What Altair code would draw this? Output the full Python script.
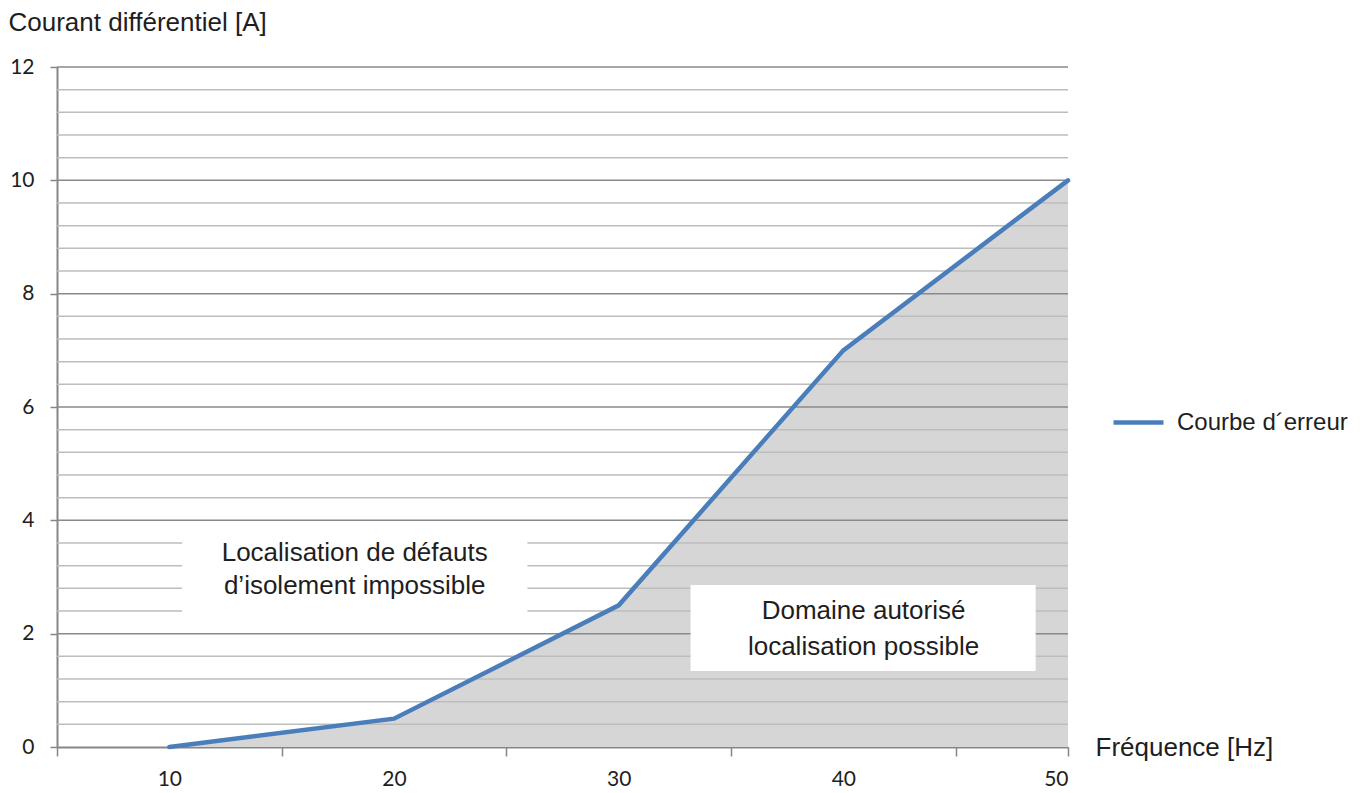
import altair as alt
import pandas as pd

# Data
freq = [10, 20, 30, 40, 50]
courant = [0, 0.5, 2.5, 7, 10]
serie = "Courbe d´erreur"

major_y = [2, 4, 6, 8, 10, 12]
minor_y = [0.4, 0.8, 1.2, 1.6, 2.4, 2.8, 3.2, 3.6, 4.4, 4.8, 5.2, 5.6,
           6.4, 6.8, 7.2, 7.6, 8.4, 8.8, 9.2, 9.6, 10.4, 10.8, 11.2, 11.6]
y_tick_values = [0, 2, 4, 6, 8, 10, 12]
x_axis_values = [5, 10, 15, 20, 25, 30, 35, 40, 45, 50]

box_x1 = [10.57, 33.2]
box_x2 = [25.94, 48.56]
box_y1 = [2.38, 1.34]
box_y2 = [3.92, 2.86]

label_x = [18.25, 18.25, 40.9, 40.9]
label_y = [3.42, 2.84, 2.40, 1.76]
label_text = ["Localisation de défauts", "d’isolement impossible",
              "Domaine autorisé", "localisation possible"]

df = pd.DataFrame({"x": freq, "y": courant, "serie": [serie] * len(freq)})
df_major = pd.DataFrame({"y": major_y})
df_minor = pd.DataFrame({"y": minor_y})
df_box = pd.DataFrame({"x": box_x1, "x2": box_x2, "y": box_y1, "y2": box_y2})
df_lab = pd.DataFrame({"x": label_x, "y": label_y, "t": label_text})

W, H = 1011, 680
xs = alt.Scale(domain=[5, 50], nice=False, zero=False)
ys = alt.Scale(domain=[0, 12], nice=False)
GRAY = "#868686"
TXT = "#1e1e1e"
FS = 26

x_axis = alt.Axis(
    values=x_axis_values,
    labelExpr="datum.value % 10 == 0 ? datum.label : ''",
    tickOpacity={"condition": {"test": "datum.value % 10 == 0 && datum.value < 50", "value": 0}, "value": 1},
    tickSize=9, tickColor=GRAY, tickWidth=1.5,
    domainColor=GRAY, domainWidth=2, grid=False,
    labelFont="Lato", labelFontSize=21, labelColor=TXT, labelPadding=12,
    title="Fréquence [Hz]", titleAngle=0, titleAlign="left",
    titleBaseline="middle", titleX=1038, titleY=0,
    titleFont="Liberation Sans", titleFontSize=FS,
    titleFontWeight="normal", titleColor=TXT)

y_axis = alt.Axis(
    values=y_tick_values, format="d", tickSize=7, tickColor=GRAY,
    tickWidth=1.5, domainColor=GRAY, domainWidth=2, grid=False,
    labelFont="Lato", labelFontSize=21, labelColor=TXT, labelPadding=16,
    title="Courant différentiel [A]", titleAngle=0, titleAlign="left",
    titleBaseline="top", titleX=-49, titleY=-58,
    titleFont="Liberation Sans", titleFontSize=FS,
    titleFontWeight="normal", titleColor=TXT)

X = alt.X("x:Q", scale=xs, axis=x_axis)
Y = alt.Y("y:Q", scale=ys, axis=y_axis)

area = alt.Chart(df).mark_area(color="#d6d6d6", opacity=1).encode(x=X, y=Y)

minor = alt.Chart(df_minor).mark_rule(color="#bdbdbd", strokeWidth=1.5).encode(y=Y)
major = alt.Chart(df_major).mark_rule(color="#8a8a8a", strokeWidth=1.5).encode(y=Y)

line = alt.Chart(df).mark_line(strokeWidth=4.5, strokeCap="round").encode(
    x=X, y=Y,
    color=alt.Color("serie:N", scale=alt.Scale(domain=[serie], range=["#4a7ebb"]),
                    legend=alt.Legend(title=None, orient="none", legendX=1054,
                                      legendY=328, symbolType="stroke",
                                      symbolSize=2500, symbolStrokeWidth=4.5,
                                      labelFont="Liberation Sans", labelFontSize=24,
                                      labelLimit=400,
                                      labelColor=TXT, labelOffset=11)),
)

boxes = alt.Chart(df_box).mark_rect(color="white", opacity=1).encode(
    x=X, x2="x2:Q", y=Y, y2="y2:Q")

texts = alt.Chart(df_lab).mark_text(
    font="Liberation Sans", fontSize=FS, color=TXT,
    align="center", baseline="middle").encode(x=X, y=Y, text="t:N")

chart = alt.layer(area, minor, major, line, boxes, texts).properties(
    width=W, height=H,
    autosize=alt.AutoSizeParams(type="none"),
    padding={"left": 49, "top": 59, "right": 295, "bottom": 46},
).configure_view(stroke=None)

chart.save("out.html", embed_options={"renderer": "svg", "actions": False})
